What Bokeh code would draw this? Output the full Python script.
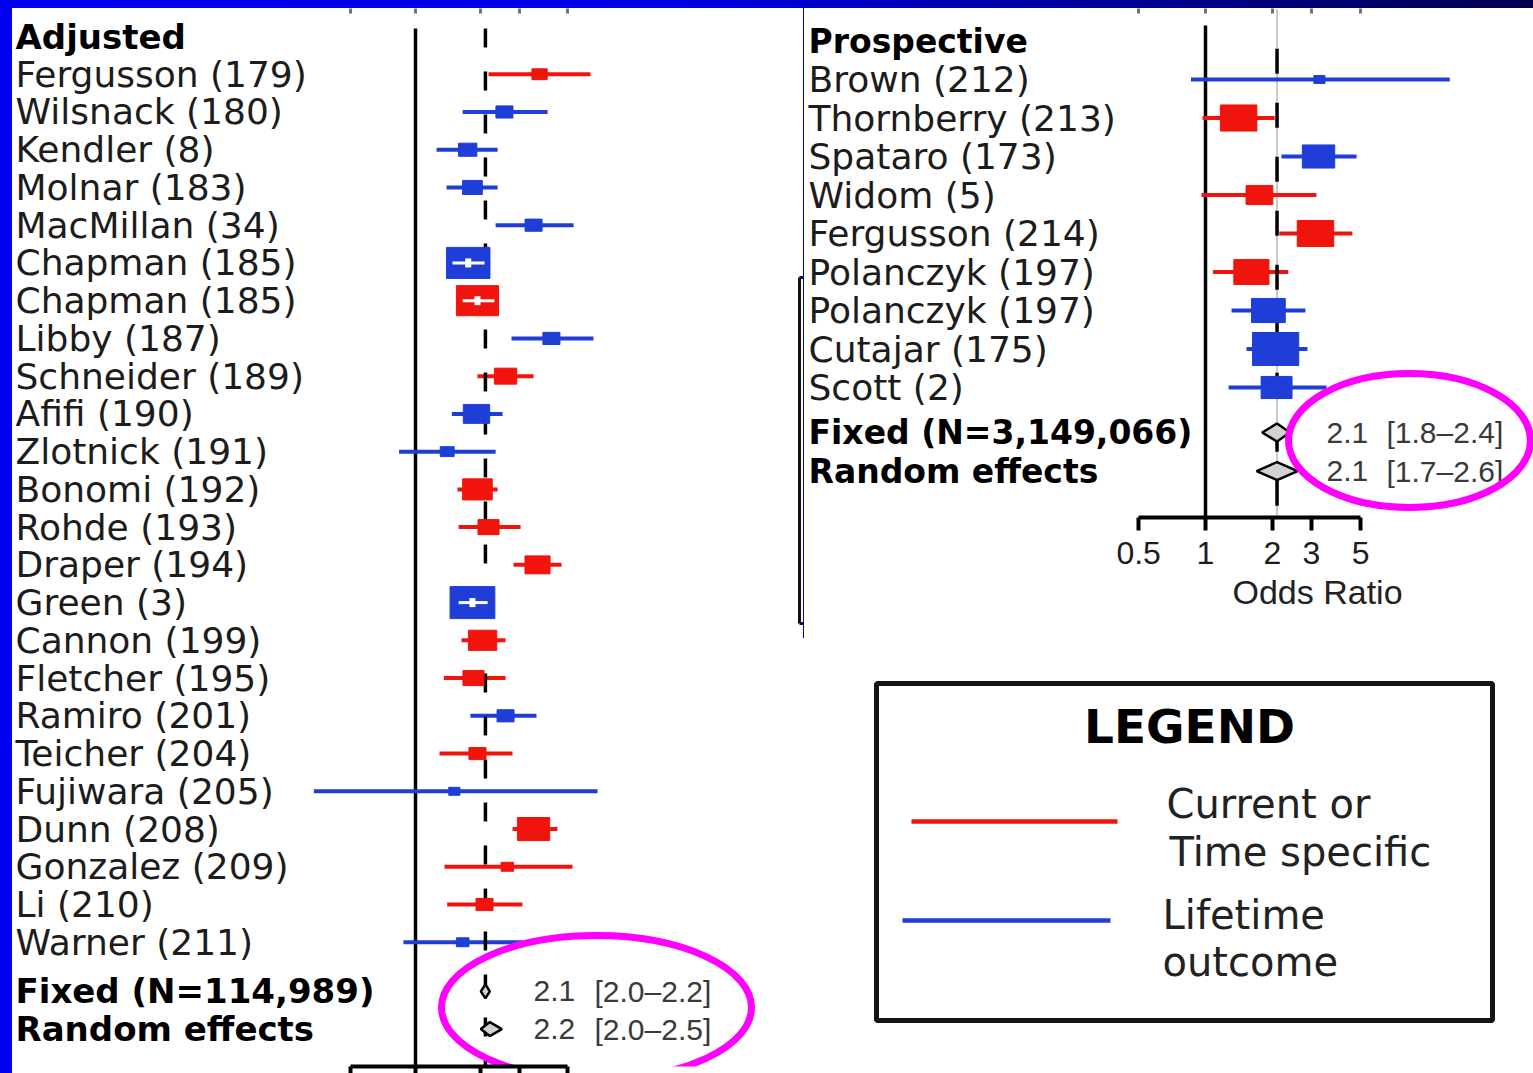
import math
from bokeh.plotting import figure
from bokeh.models import (Range1d, LogScale, LogAxis, FixedTicker, ColumnDataSource,
                          Spacer, Title)
from bokeh.layouts import row, column
from bokeh.core.properties import value
from bokeh.embed import file_html
from bokeh.resources import INLINE

# ---------------------------------------------------------------- data
adj_header = "Adjusted"
adj_study = ["Fergusson (179)", "Wilsnack (180)", "Kendler (8)", "Molnar (183)",
             "MacMillan (34)", "Chapman (185)", "Chapman (185)", "Libby (187)",
             "Schneider (189)", "Afifi (190)", "Zlotnick (191)", "Bonomi (192)",
             "Rohde (193)", "Draper (194)", "Green (3)", "Cannon (199)",
             "Fletcher (195)", "Ramiro (201)", "Teicher (204)", "Fujiwara (205)",
             "Dunn (208)", "Gonzalez (209)", "Li (210)", "Warner (211)"]
adj_outcome = ["current", "lifetime", "lifetime", "lifetime", "lifetime", "lifetime",
               "current", "lifetime", "current", "lifetime", "lifetime", "current",
               "current", "current", "lifetime", "current", "current", "lifetime",
               "current", "lifetime", "current", "current", "current", "lifetime"]
adj_or = [3.73, 2.57, 1.74, 1.83, 3.50, 1.75, 1.93, 4.23, 2.60, 1.91, 1.40, 1.93,
          2.17, 3.65, 1.83, 2.04, 1.85, 2.60, 1.93, 1.51, 3.50, 2.65, 2.08, 1.65]
adj_lo = [2.17, 1.65, 1.25, 1.39, 2.34, 1.48, 1.65, 2.77, 1.93, 1.47, 0.84, 1.56,
          1.58, 2.83, 1.58, 1.63, 1.35, 1.79, 1.29, 0.34, 2.80, 1.36, 1.40, 0.88]
adj_hi = [6.40, 4.06, 2.39, 2.39, 5.35, 2.08, 2.31, 6.61, 3.50, 2.52, 2.34, 2.39,
          3.05, 4.71, 2.15, 2.60, 2.60, 3.61, 2.80, 6.90, 4.51, 5.29, 3.11, 3.11]
adj_weight = [34, 38, 41, 44, 38, 97, 94, 38, 50, 59, 31, 66,
              47, 56, 100, 63, 47, 38, 38, 25, 72, 28, 38, 28]
adj_sum_name = ["Fixed (N=114,989)", "Random effects"]
adj_sum_or = [2.1, 2.2]
adj_sum_lo = [2.0, 2.0]
adj_sum_hi = [2.2, 2.5]

pro_header = "Prospective"
pro_study = ["Brown (212)", "Thornberry (213)", "Spataro (173)", "Widom (5)",
             "Fergusson (214)", "Polanczyk (197)", "Polanczyk (197)", "Cutajar (175)",
             "Scott (2)"]
pro_outcome = ["lifetime", "current", "lifetime", "current", "current", "current",
               "lifetime", "lifetime", "lifetime"]
pro_or = [3.26, 1.41, 3.23, 1.75, 3.13, 1.61, 1.92, 2.07, 2.09]
pro_lo = [0.86, 0.97, 2.20, 0.96, 2.15, 1.08, 1.31, 1.53, 1.27]
pro_hi = [12.6, 2.05, 4.79, 3.16, 4.59, 2.36, 2.82, 2.88, 3.51]
pro_weight = [24, 79, 70, 58, 79, 76, 73, 100, 67]
pro_sum_name = ["Fixed (N=3,149,066)", "Random effects"]
pro_sum_or = [2.1, 2.1]
pro_sum_lo = [1.8, 1.7]
pro_sum_hi = [2.4, 2.6]

tick_values = [0.5, 1, 2, 3, 5]
tick_labels = ["0.5", "1", "2", "3", "5"]
axis_title = "Odds Ratio"
null_value = 1

legend_title = "LEGEND"
legend_outcomes = ["current", "lifetime"]
legend_text = [["Current or", "Time specific"], ["Lifetime", "outcome"]]

# ---------------------------------------------------------------- styles
RED = "#f0140c"
BLUE = "#1f3ed8"
OUTCOME_COLOR = {"current": RED, "lifetime": BLUE}
LABEL_FONT = "DejaVu Sans"
NUM_FONT = "Liberation Sans"
MAGENTA = "#ff00ff"
BOX_ASPECT = 1.4
WHITE_BG = {"background-color": "white"}


def base_axis(**kw):
    ax = LogAxis(x_range_name="or", ticker=FixedTicker(ticks=tick_values),
                 bounds=(min(tick_values), max(tick_values)),
                 minor_tick_in=0, minor_tick_out=0, **kw)
    ax.major_label_overrides = {t: s for t, s in zip(tick_values, tick_labels)}
    return ax


def forest(width, height, border_bottom, one_px, px_per_decade, row0_px, row_px,
           summary_gap, box_max, header, study, outcome, est, lo, hi, weight,
           sum_name, sum_est, sum_lo, sum_hi, label_x, value_x, ci_text_x,
           solid_top, dash_top, dash, diamond_half, show_labels, guide,
           bold_size, label_size):
    fh = height - border_bottom
    p = figure(width=width, height=height, output_backend="svg", toolbar_location=None,
               x_range=Range1d(0, width),
               y_range=Range1d((fh - row0_px) / row_px, -row0_px / row_px),
               x_axis_type=None, y_axis_type=None,
               min_border_left=0, min_border_right=0, min_border_top=0,
               min_border_bottom=border_bottom,
               outline_line_color=None, background_fill_color="white",
               border_fill_color="white", styles=WHITE_BG)
    p.extra_x_ranges = {"or": Range1d(10 ** (-one_px / px_per_decade),
                                      10 ** ((width - one_px) / px_per_decade))}
    p.extra_x_scales = {"or": LogScale()}
    p.extra_y_ranges = {"py": Range1d(fh, 0)}
    bottom = p.y_range.start
    top = p.y_range.end

    n = len(study)
    rows = list(range(1, n + 1))
    box_h = [w / 100 * box_max for w in weight]
    src = ColumnDataSource(dict(y=rows, est=est, lo=lo, hi=hi,
                                color=[OUTCOME_COLOR[o] for o in outcome],
                                bw=[BOX_ASPECT * h for h in box_h], bh=box_h))

    if guide:
        p.segment(x0=[sum_est[0]], x1=[sum_est[0]], y0=[top], y1=[bottom],
                  x_range_name="or", line_color="#a8a8a8", line_width=1.2)
    p.segment(x0=[null_value], x1=[null_value], y0=[solid_top], y1=[bottom],
              x_range_name="or", line_color="black", line_width=3.5)
    p.segment(x0="lo", x1="hi", y0="y", y1="y", source=src, x_range_name="or",
              line_color="color", line_width=4)
    p.segment(x0=[sum_est[0]], x1=[sum_est[0]], y0=[dash_top], y1=[bottom],
              x_range_name="or", line_color="black", line_width=3.5, line_dash=dash)
    p.rect(x="est", y="y", width="bw", height="bh", width_units="screen",
           height_units="screen", source=src, x_range_name="or",
           fill_color="color", line_color="color", line_width=1)

    inner = [i for i in range(n)
             if BOX_ASPECT * box_h[i] > px_per_decade * (math.log10(hi[i]) - math.log10(lo[i]))]
    if inner:
        isrc = ColumnDataSource(dict(y=[rows[i] for i in inner], est=[est[i] for i in inner],
                                     lo=[lo[i] for i in inner], hi=[hi[i] for i in inner]))
        p.segment(x0="lo", x1="hi", y0="y", y1="y", source=isrc, x_range_name="or",
                  line_color="white", line_width=3)
        p.rect(x="est", y="y", width=6, height=9, width_units="screen",
               height_units="screen", source=isrc, x_range_name="or",
               fill_color="white", line_color=None)

    srows = [n + summary_gap + k for k in range(len(sum_name))]
    dh = diamond_half / row_px
    p.patches(xs=[[a, e, b, e] for a, e, b in zip(sum_lo, sum_est, sum_hi)],
              ys=[[r, r - dh, r, r + dh] for r in srows], x_range_name="or",
              fill_color="#d2d2d2", line_color="black", line_width=2.5)

    p.text(x=[label_x], y=[0], text=[header], text_font=value(LABEL_FONT),
           text_font_style="bold", text_font_size=bold_size, text_baseline="middle",
           text_align="left", text_color="black")
    p.text(x=[label_x] * n, y=rows, text=study, text_font=value(LABEL_FONT),
           text_font_size=label_size, text_baseline="middle", text_align="left",
           text_color="#1c1c1c")
    p.text(x=[label_x] * len(sum_name), y=srows, text=sum_name,
           text_font=value(LABEL_FONT), text_font_style="bold", text_font_size=bold_size,
           text_baseline="middle", text_align="left", text_color="black")
    p.text(x=[value_x] * len(sum_name), y=srows, text=[f"{e:.1f}" for e in sum_est],
           text_font=value(NUM_FONT), text_font_size="30px", text_baseline="middle",
           text_align="left", text_color="#3a3a3a")
    p.text(x=[ci_text_x] * len(sum_name), y=srows,
           text=[f"[{a:.1f}\u2013{b:.1f}]" for a, b in zip(sum_lo, sum_hi)],
           text_font=value(NUM_FONT), text_font_size="30px", text_baseline="middle",
           text_align="left", text_color="#3a3a3a")

    # faint tick stubs of the (cropped) axis above each panel
    top_ax = base_axis(axis_line_color=None, major_tick_in=5, major_tick_out=0,
                       major_tick_line_color="#707070", major_tick_line_width=3,
                       major_label_standoff=0, major_label_text_font_size="0px",
                       major_label_text_color=None)
    p.add_layout(top_ax, "above")

    ax = base_axis(axis_line_width=4, axis_line_color="black",
                   major_tick_line_width=4, major_tick_line_color="black",
                   major_tick_in=0)
    if show_labels:
        ax.major_tick_out = 13
        ax.major_label_standoff = 11
        ax.major_label_text_font = NUM_FONT
        ax.major_label_text_font_size = "32px"
        ax.major_label_text_color = "#1c1c1c"
    else:
        ax.major_tick_out = border_bottom
        ax.major_label_standoff = 0
        ax.major_label_text_font_size = "0px"
        ax.major_label_text_color = None
    p.add_layout(ax, "below")
    return p


# ---------------------------------------------------------------- left panel
left = forest(width=791, height=1065, border_bottom=7, one_px=403, px_per_decade=217,
              row0_px=28, row_px=37.74, summary_gap=1.3, box_max=32,
              header=adj_header, study=adj_study, outcome=adj_outcome, est=adj_or,
              lo=adj_lo, hi=adj_hi, weight=adj_weight, sum_name=adj_sum_name,
              sum_est=adj_sum_or, sum_lo=adj_sum_lo, sum_hi=adj_sum_hi,
              label_x=3, value_x=521, ci_text_x=582, solid_top=-0.21, dash_top=-0.21,
              dash="19 24", diamond_half=7, show_labels=False, guide=False,
              bold_size="34px", label_size="36px")
left.ellipse(x=[584], y=[999], width=310, height=144, width_units="screen",
             height_units="screen", y_range_name="py", fill_color=None,
             line_color=MAGENTA, line_width=7)
left.segment(x0=[787, 787, 787], x1=[787, 791, 791], y0=[269, 269, 615],
             y1=[615, 269, 615], y_range_name="py", line_color="#111111", line_width=3)

# ---------------------------------------------------------------- right panel
right = forest(width=729, height=630, border_bottom=121, one_px=401, px_per_decade=222,
               row0_px=32.5, row_px=38.5, summary_gap=1.17, box_max=33,
               header=pro_header, study=pro_study, outcome=pro_outcome, est=pro_or,
               lo=pro_lo, hi=pro_hi, weight=pro_weight, sum_name=pro_sum_name,
               sum_est=pro_sum_or, sum_lo=pro_sum_lo, sum_hi=pro_sum_hi,
               label_x=4, value_x=522, ci_text_x=582, solid_top=-0.40, dash_top=0.2,
               dash="25 29", diamond_half=9, show_labels=True, guide=True,
               bold_size="33px", label_size="36px")
right.ellipse(x=[605], y=[432], width=242, height=134, width_units="screen",
              height_units="screen", y_range_name="py", fill_color=None,
              line_color=MAGENTA, line_width=7)
right.add_layout(Title(text=axis_title, align="left", offset=428, standoff=8,
                       text_font=NUM_FONT, text_font_size="34px",
                       text_font_style="normal", text_color="#222222"), "below")

# ---------------------------------------------------------------- legend
lg = figure(width=730, height=435, output_backend="svg", toolbar_location=None,
            x_range=Range1d(0, 730), y_range=Range1d(435, 0),
            x_axis_type=None, y_axis_type=None, min_border=0,
            outline_line_color=None, background_fill_color="white",
            border_fill_color="white", styles=WHITE_BG)
lg.quad(left=[73], right=[689], top=[45], bottom=[382], fill_color="white",
        line_color="#151515", line_width=5)
lg.text(x=[386], y=[88], text=[legend_title], text_font=value(LABEL_FONT),
        text_font_style="bold", text_font_size="47px", text_align="center",
        text_baseline="middle", text_color="black")
lg.segment(x0=[108, 99], x1=[314, 307], y0=[183, 282], y1=[183, 282],
           line_color=[OUTCOME_COLOR[o] for o in legend_outcomes], line_width=4.5)
lg.text(x=[363, 366, 359, 359], y=[165.5, 213.5, 276.5, 323.5],
        text=[t for pair in legend_text for t in pair], text_font=value(LABEL_FONT),
        text_font_size="40px", text_align="left", text_baseline="middle",
        text_color="#222222")

# ---------------------------------------------------------------- page
right_col = column(row(Spacer(width=1, height=630), right), lg)
body = row(Spacer(width=12, height=1065), left, right_col)
page = column(Spacer(width=1533, height=8), body,
              styles={"background": "linear-gradient(90deg, #0000f0 0%, #0000e0 45%, "
                                    "#000090 75%, #000050 100%)"})

open("out.html", "w").write(file_html(page, INLINE))
